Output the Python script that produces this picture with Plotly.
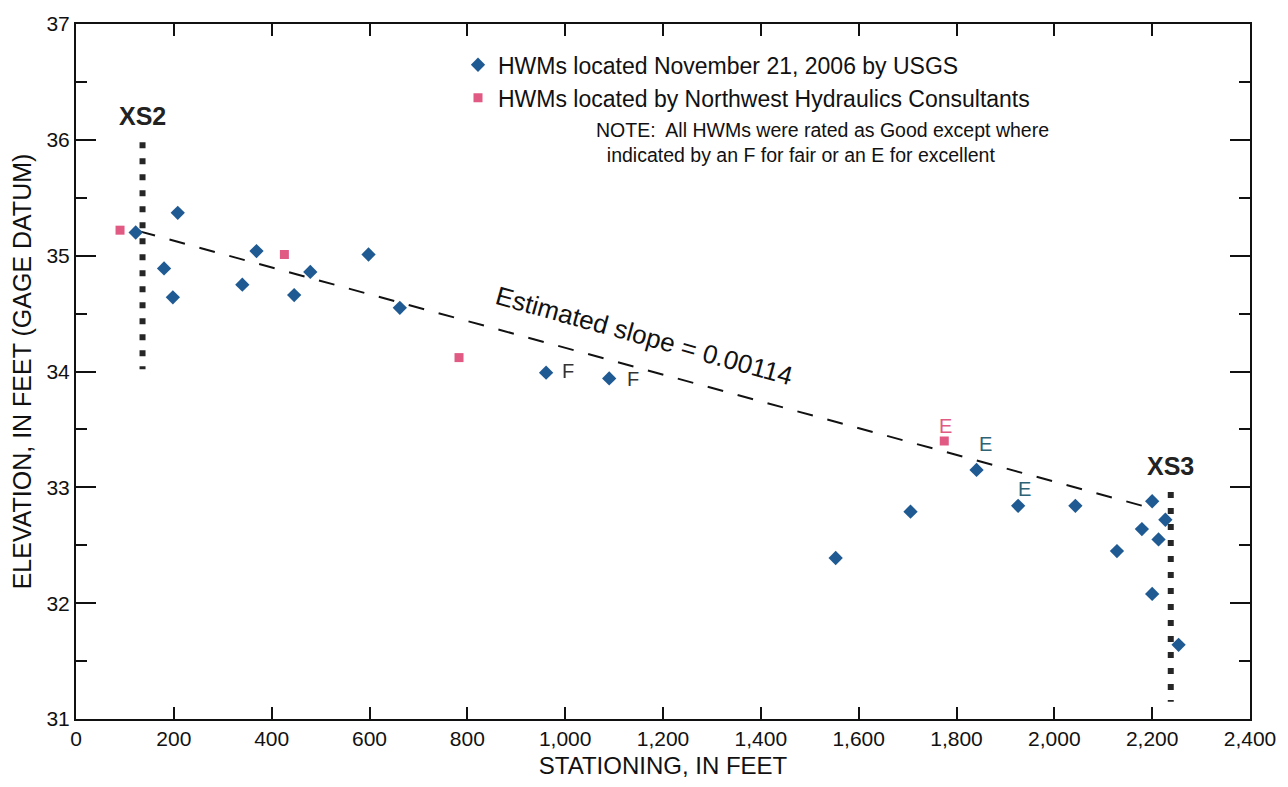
import plotly.graph_objects as go

# ---- data ----
usgs_x = [122, 208, 180, 198, 340, 369, 446, 479, 598, 662, 961, 1090,
          1553, 1706, 1841, 1926, 2043, 2128, 2179, 2200, 2213, 2227, 2200, 2254]
usgs_y = [35.20, 35.37, 34.89, 34.64, 34.75, 35.04, 34.66, 34.86, 35.01, 34.55, 33.99, 33.94,
          32.39, 32.79, 33.15, 32.84, 32.84, 32.45, 32.64, 32.88, 32.55, 32.72, 32.08, 31.64]
usgs_rating = ["", "", "", "", "", "", "", "", "", "", "F", "F",
               "", "", "E", "E", "", "", "", "", "", "", "", ""]

nhc_x = [90, 426, 783, 1775]
nhc_y = [35.22, 35.01, 34.12, 33.40]
nhc_rating = ["", "", "", "E"]

trend_x = [130, 2198]
trend_y = [35.21, 32.82]
slope_text = "Estimated slope = 0.00114"

xs2_x = [136, 136]
xs2_y = [35.98, 34.02]
xs3_x = [2238, 2238]
xs3_y = [32.96, 31.15]

note_lines = ["NOTE:  All HWMs were rated as Good except where",
              "\u00a0\u00a0indicated by an F for fair or an E for excellent"]

x_ticks = list(range(0, 2401, 200))
x_tick_text = [f"{v:,}" for v in x_ticks]
y_ticks = [31, 32, 33, 34, 35, 36, 37]

FONT = "Liberation Sans, Arial, sans-serif"
BLUE = "#1f5a93"
PINK = "#e05a84"
INK = "#111111"

fig = go.Figure()

# cross-section lines
for xs, ys in ((xs2_x, xs2_y), (xs3_x, xs3_y)):
    fig.add_trace(go.Scatter(x=xs, y=ys, mode="lines", showlegend=False, hoverinfo="skip",
                             line=dict(color="#262626", width=6, dash="6px,10px")))

# trend line
fig.add_trace(go.Scatter(x=trend_x, y=trend_y, mode="lines", showlegend=False, hoverinfo="skip",
                         line=dict(color=INK, width=2, dash="16px,15px")))

fig.add_trace(go.Scatter(x=usgs_x, y=usgs_y, mode="markers",
                         name="HWMs located November 21, 2006 by USGS",
                         marker=dict(symbol="diamond", size=11, color=BLUE)))
fig.add_trace(go.Scatter(x=nhc_x, y=nhc_y, mode="markers",
                         name="HWMs located by Northwest Hydraulics Consultants",
                         marker=dict(symbol="square", size=9, color=PINK)))

# rating labels
usgs_offsets = {10: (22, 2), 11: (24, -1), 14: (9, 26), 15: (6, 17)}
for i, r in enumerate(usgs_rating):
    if r:
        dx, dy = usgs_offsets[i]
        col = "#333333" if r == "F" else "#2d6375"
        fig.add_annotation(x=usgs_x[i], y=usgs_y[i], text=r, showarrow=False,
                           xshift=dx, yshift=dy, font=dict(family=FONT, size=20, color=col))
for i, r in enumerate(nhc_rating):
    if r:
        fig.add_annotation(x=nhc_x[i], y=nhc_y[i], text=r, showarrow=False,
                           xshift=1, yshift=15, font=dict(family=FONT, size=20, color=PINK))

# XS labels
fig.add_annotation(x=xs2_x[0], y=xs2_y[0], text="<b>XS2</b>", showarrow=False, yshift=26,
                   font=dict(family=FONT, size=25, color="#222222"))
fig.add_annotation(x=xs3_x[0], y=xs3_y[0], text="<b>XS3</b>", showarrow=False, yshift=26,
                   font=dict(family=FONT, size=25, color="#222222"))

# slope text
fig.add_annotation(x=1163, y=34.31, text=slope_text, showarrow=False, textangle=15.5,
                   font=dict(family=FONT, size=26, color=INK))

# note (one text block, two lines)
fig.add_annotation(xref="paper", yref="paper", x=(594 - 76) / 1174, y=(722.3 - 140) / 701.8,
                   text="<br>".join(note_lines), showarrow=False, align="left",
                   xanchor="left", yanchor="middle",
                   font=dict(family=FONT, size=19.5, color=INK))

axis_common = dict(showline=True, linecolor=INK, linewidth=2, mirror="allticks",
                   ticks="inside", tickcolor=INK, tickwidth=2, showgrid=False, zeroline=False,
                   tickfont=dict(family=FONT, size=21, color=INK))

fig.update_xaxes(range=[0, 2400], tickvals=x_ticks, ticktext=x_tick_text, ticklen=12,
                 title=dict(text="STATIONING, IN FEET", font=dict(family=FONT, size=24, color=INK),
                            standoff=8),
                 **axis_common)
fig.update_yaxes(range=[31, 37], tickvals=y_ticks, ticklen=20,
                 minor=dict(dtick=0.5, ticklen=11, tickwidth=2, tickcolor=INK, ticks="inside"),
                 title=dict(text="ELEVATION, IN FEET (GAGE DATUM)",
                            font=dict(family=FONT, size=25, color=INK), standoff=8),
                 **axis_common)

fig.update_layout(
    width=1288, height=787,
    margin=dict(l=76, r=38, t=20, b=65),
    paper_bgcolor="white", plot_bgcolor="white",
    legend=dict(x=(458 - 76) / 1174, y=(722.3 - 40) / 701.8, xanchor="left", yanchor="top",
                bgcolor="rgba(0,0,0,0)", font=dict(family=FONT, size=23, color=INK),
                itemwidth=30, tracegroupgap=0),
    showlegend=True,
)

fig.write_html("out.html")
